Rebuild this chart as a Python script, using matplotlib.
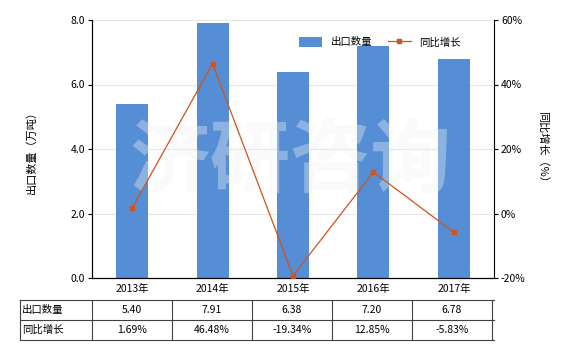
import matplotlib
matplotlib.use("Agg")
import matplotlib.pyplot as plt
import numpy as np

plt.rcParams['font.family'] = ['Noto Sans CJK SC', 'DejaVu Sans']
plt.rcParams['axes.unicode_minus'] = False

years = ['2013年', '2014年', '2015年', '2016年', '2017年']
export_qty = [5.40, 7.91, 6.38, 7.20, 6.78]
yoy_growth = [1.69, 46.48, -19.34, 12.85, -5.83]
qty_labels = ['5.40', '7.91', '6.38', '7.20', '6.78']
growth_labels = ['1.69%', '46.48%', '-19.34%', '12.85%', '-5.83%']
left_ticks = [0, 2, 4, 6, 8]
right_ticks = [-20, 0, 20, 40, 60]

bar_color = '#558ED5'
line_color = '#D0521C'

W, H = 580, 350
fig = plt.figure(figsize=(W / 100, H / 100), dpi=100)
ax = fig.add_axes([92 / W, 1 - 278 / H, (494 - 92) / W, (278 - 20) / H])
x = np.arange(len(years))
ax.bar(x, export_qty, width=0.4, color=bar_color, zorder=2, label='出口数量')
ax.set_xlim(-0.5, len(years) - 0.5)
ax.set_ylim(0, 8)
ax.set_yticks(left_ticks)
ax.set_yticklabels([f'{v:.1f}' for v in left_ticks], fontsize=7.5)
ax.set_xticks(x)
ax.set_xticklabels(years, fontsize=7.5)
ax.tick_params(axis='x', length=0, pad=4)
ax.tick_params(axis='y', length=3, width=0.8, pad=2)
ax.grid(axis='y', color='#e6e6e6', linewidth=0.8, zorder=0)
ax.set_axisbelow(True)
ax.spines['top'].set_visible(False)
ax.spines['right'].set_visible(False)
ax.set_ylabel('出口数量（万吨）', fontsize=8, labelpad=24)

# watermark (below line, above bars)
ax.text(290 / W, 1 - 163 / H, '济研咨询', transform=fig.transFigure, fontsize=58,
        fontweight='bold', color='#f2f2f2', alpha=0.37, ha='center', va='center',
        zorder=5)

ax2 = ax.twinx()
ax2.plot(x, yoy_growth, color=line_color, linewidth=0.9, marker='s', markersize=3.5,
         zorder=3, label='同比增长')
ax2.set_ylim(-20, 60)
ax2.set_yticks(right_ticks)
ax2.set_yticklabels([f'{v}%' for v in right_ticks], fontsize=7.5)
ax2.tick_params(axis='y', length=3, width=0.8, pad=2)
ax2.spines['top'].set_visible(False)
ax2.set_ylabel('同比增长（%）', fontsize=8, rotation=-90, labelpad=16)

h1, l1 = ax.get_legend_handles_labels()
h2, l2 = ax2.get_legend_handles_labels()
ax2.legend(h1 + h2, l1 + l2, loc='upper right', bbox_to_anchor=(0.94, 0.97),
           ncol=2, frameon=False, fontsize=7.5, handlelength=2.2, columnspacing=1.5,
           handleheight=1.0)

# table
tax = fig.add_axes([20 / W, 1 - 340 / H, (494 - 20) / W, 40 / H])
tax.set_xlim(20, 494)
tax.set_ylim(340, 300)
tax.axis('off')
edges = [20] + [92 + 80 * i for i in range(6)]
lc = '#404040'
for e in edges:
    tax.plot([e, e], [300, 340], color=lc, linewidth=0.8, clip_on=False)
for yy in [300, 320, 340]:
    tax.plot([20, 494], [yy, yy], color=lc, linewidth=0.8, clip_on=False)
rows = [('出口数量', qty_labels), ('同比增长', growth_labels)]
for r, (name, vals) in enumerate(rows):
    yc = 310 + 20 * r
    tax.text(22, yc, name, fontsize=7.5, ha='left', va='center')
    for i, v in enumerate(vals):
        tax.text(92 + 80 * i + 40, yc, v, fontsize=7.5, ha='center', va='center')

fig.savefig('out.png', dpi=100)
